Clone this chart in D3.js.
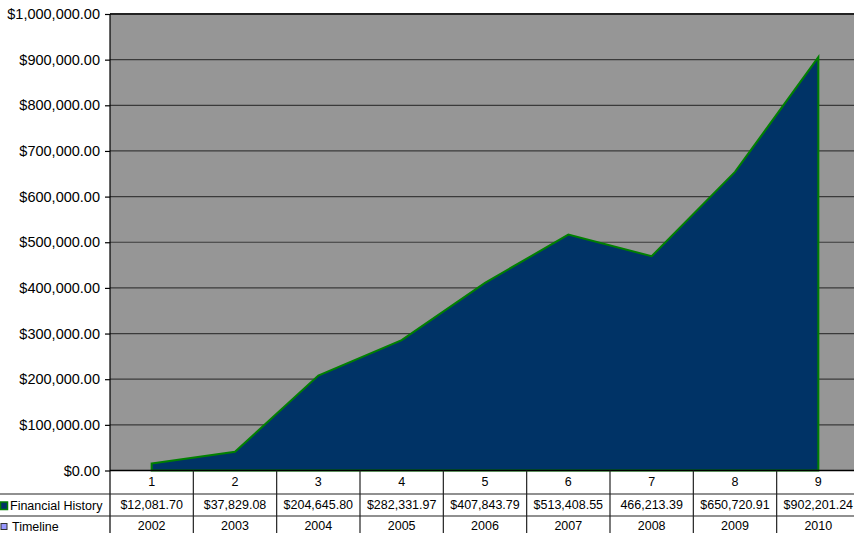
<!DOCTYPE html>
<html>
<head>
<meta charset="utf-8">
<script src="https://cdn.jsdelivr.net/npm/d3@7"></script>
<style>
body { margin: 0; background: #fff; }
svg { display: block; font-family: "Liberation Sans", Arial, sans-serif; }
</style>
</head>
<body>
<svg id="grafico"></svg>
<script>
let categorias = ["1", "2", "3", "4", "5", "6", "7", "8", "9"];
let valores = [12081.70, 37829.08, 204645.80, 282331.97, 407843.79, 513408.55, 466213.39, 650720.91, 902201.24];
let rotulosValores = ["$12,081.70", "$37,829.08", "$204,645.80", "$282,331.97", "$407,843.79", "$513,408.55", "466,213.39", "$650,720.91", "$902,201.24"];
let anos = ["2002", "2003", "2004", "2005", "2006", "2007", "2008", "2009", "2010"];
let ticksY = [0, 100000, 200000, 300000, 400000, 500000, 600000, 700000, 800000, 900000, 1000000];

let width = 854, height = 533;
let esq = 110, dir = 860, topo = 14, base = 470.5;

let svg = d3.select("#grafico")
    .attr("width", width)
    .attr("height", height)
    .attr("viewBox", "0 0 " + width + " " + height);

let x = d3.scaleBand().domain(categorias).range([esq, dir]);
let y = d3.scaleLinear().domain([0, 1000000]).range([base, topo]);
let fmt = d3.format("$,.2f");

// fundo da área de plotagem
svg.append("rect")
    .attr("x", esq).attr("y", topo)
    .attr("width", dir - esq).attr("height", base - topo)
    .attr("fill", "#969696");

// linhas de grade
svg.append("g").selectAll("line")
    .data(ticksY.slice(1, -1))
    .enter().append("line")
    .attr("x1", esq).attr("x2", dir)
    .attr("y1", d => y(d)).attr("y2", d => y(d))
    .attr("stroke", "#3a3a3a").attr("stroke-width", 1.2);

// área (levemente deslocada para cima, como no original)
let area = d3.area()
    .x((d, i) => x(categorias[i]) + x.bandwidth() / 2)
    .y0(y(0))
    .y1(d => y(d) - 1.5);

svg.append("path")
    .datum(valores)
    .attr("d", area)
    .attr("fill", "#003366")
    .attr("stroke", "#008000")
    .attr("stroke-width", 2)
    .attr("stroke-linejoin", "miter");

// borda superior
svg.append("line")
    .attr("x1", esq).attr("x2", dir)
    .attr("y1", topo).attr("y2", topo)
    .attr("stroke", "#222").attr("stroke-width", 2);

// eixo Y
let eixoY = d3.axisLeft(y).tickValues(ticksY).tickFormat(fmt).tickSize(5).tickPadding(5);
let gY = svg.append("g").attr("transform", "translate(" + esq + ",0)").call(eixoY);
gY.select(".domain").remove();
gY.selectAll(".tick line").attr("stroke", "#000").attr("stroke-width", 1.2);
gY.selectAll(".tick text").attr("font-size", 14.5).attr("fill", "#000")
    .attr("font-family", "Liberation Sans, Arial, sans-serif");
svg.append("line")
    .attr("x1", esq).attr("x2", esq)
    .attr("y1", topo).attr("y2", height)
    .attr("stroke", "#000").attr("stroke-width", 1.2);

// linha do zero
svg.append("line")
    .attr("x1", esq).attr("x2", dir)
    .attr("y1", base).attr("y2", base)
    .attr("stroke", "#000").attr("stroke-width", 1.5);

// tabela de dados
let linha1 = 494, linha2 = 516;
let tabela = svg.append("g");

tabela.selectAll("line.col")
    .data(categorias)
    .enter().append("line")
    .attr("class", "col")
    .attr("x1", d => x(d) + x.bandwidth()).attr("x2", d => x(d) + x.bandwidth())
    .attr("y1", base).attr("y2", height)
    .attr("stroke", "#222").attr("stroke-width", 1.2);

[linha1, linha2].forEach(function(yy){
    tabela.append("line")
        .attr("x1", 0).attr("x2", dir)
        .attr("y1", yy).attr("y2", yy)
        .attr("stroke", "#222").attr("stroke-width", 1.2);
});

function linhaTexto(textos, yc){
    tabela.append("g").selectAll("text")
        .data(textos)
        .enter().append("text")
        .attr("x", (d, i) => x(categorias[i]) + x.bandwidth() / 2)
        .attr("y", yc)
        .attr("text-anchor", "middle")
        .attr("dominant-baseline", "central")
        .attr("font-size", 12.5)
        .text(d => d);
}
linhaTexto(categorias, 482);
linhaTexto(rotulosValores, 505);
linhaTexto(anos, 526);

// legenda na tabela
tabela.append("rect")
    .attr("x", 0.5).attr("y", 502).attr("width", 7).attr("height", 7.5)
    .attr("fill", "#003366").attr("stroke", "#008000").attr("stroke-width", 1.5);
tabela.append("text")
    .attr("x", 10).attr("y", 505.5).attr("dominant-baseline", "central")
    .attr("font-size", 12.5).text("Financial History");
tabela.append("rect")
    .attr("x", 1).attr("y", 523.5).attr("width", 6).attr("height", 6)
    .attr("fill", "#9999ff").attr("stroke", "#333").attr("stroke-width", 1);
tabela.append("text")
    .attr("x", 12).attr("y", 527).attr("dominant-baseline", "central")
    .attr("font-size", 12.5).text("Timeline");
</script>
</body>
</html>
